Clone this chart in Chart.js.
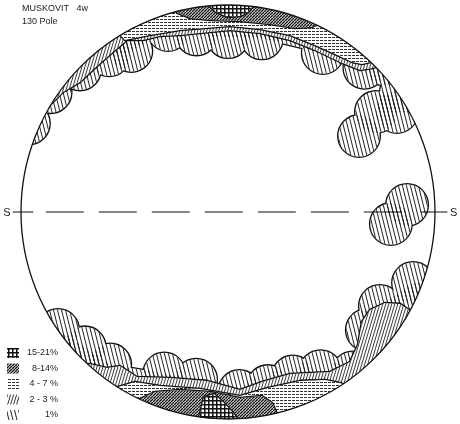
<!DOCTYPE html>
<html>
<head>
  <meta charset="utf-8">
  <title>Muskovit 4w</title>
  <script src="https://cdn.jsdelivr.net/npm/chart.js"></script>
  <style>
    html, body { margin: 0; padding: 0; background: #fff; }
    canvas { display: block; }
  </style>
</head>
<body>
  <canvas id="netChart" width="460" height="424"></canvas>

  <script>
    // text
    const titleLines = ['MUSKOVIT   4w', '130 Pole'];
    const levelLabels = ['15-21%', '8-14%', '4 - 7 %', '2 - 3 %', '1%'];
    const poleLabels = ['S', 'S'];

    // counting circle radius (unit net = 1)
    const countRadius = 0.1;

    // 1% contour: counting circles (centres in net coords)
    const topCircles = [
      [-0.962, 0.428], [-0.857, 0.579], [-0.715, 0.689], [-0.574, 0.757], [-0.467, 0.778],
      [-0.290, 0.879], [-0.152, 0.858], [0.000, 0.845], [0.164, 0.839], [0.458, 0.768],
      [0.659, 0.697], [0.760, 0.712], [0.715, 0.483], [0.816, 0.483]
    ];
    const rightCircles = [[0.633, 0.367]];
    const midCircles = [[0.865, 0.034], [0.787, -0.058]];
    const bottomCircles = [
      [-0.821, -0.570], [-0.692, -0.654], [-0.569, -0.737], [-0.308, -0.780], [-0.154, -0.810],
      [0.055, -0.865], [0.193, -0.841], [0.313, -0.795], [0.447, -0.769], [0.603, -0.775],
      [0.671, -0.570], [0.734, -0.454], [0.894, -0.343]
    ];

    // rim side areas of each level (closed outside the net, clipped to it)
    const topArea1 = [[-1.3, 0.25]].concat(topCircles, [[1.3, 0.45], [1.3, 1.3], [-1.3, 1.3]]);
    const bottomArea1 = [[-1.3, -0.45]].concat(bottomCircles, [[1.3, -0.3], [1.3, -1.3], [-1.3, -1.3]]);

    const topArea2 = [
      [-1.3, 0.35], [-0.952, 0.348], [-0.884, 0.493], [-0.797, 0.580], [-0.715, 0.628],
      [-0.633, 0.705], [-0.556, 0.773], [-0.488, 0.831], [-0.411, 0.831], [-0.329, 0.850],
      [-0.232, 0.855], [-0.135, 0.865], [0.010, 0.879], [0.155, 0.865], [0.300, 0.831],
      [0.420, 0.783], [0.541, 0.725], [0.638, 0.686], [0.700, 0.696], [1.2, 0.9],
      [1.3, 1.3], [-1.3, 1.3]
    ];
    const bottomArea2 = [
      [-0.75, -0.75], [-0.671, -0.734], [-0.584, -0.754], [-0.522, -0.744], [-0.440, -0.797],
      [-0.280, -0.802], [-0.101, -0.816], [0.058, -0.860], [0.164, -0.821], [0.300, -0.783],
      [0.493, -0.773], [0.589, -0.725], [0.628, -0.643], [0.647, -0.531], [0.686, -0.473],
      [0.758, -0.440], [0.831, -0.444], [0.889, -0.483], [1.0, -0.5], [1.3, -1.3], [-0.75, -1.3]
    ];

    const topArea3 = [
      [-0.56, 0.9], [-0.498, 0.831], [-0.377, 0.855], [-0.232, 0.879], [0.010, 0.899],
      [0.155, 0.884], [0.300, 0.855], [0.420, 0.807], [0.517, 0.763], [0.599, 0.725],
      [0.647, 0.715], [0.8, 0.75], [0.8, 1.3], [-0.56, 1.3]
    ];
    const bottomArea3 = [
      [-0.6, -0.85], [-0.531, -0.845], [-0.449, -0.821], [-0.329, -0.841], [-0.135, -0.855],
      [0.058, -0.889], [0.193, -0.850], [0.348, -0.816], [0.469, -0.812], [0.541, -0.826],
      [0.6, -0.85], [0.6, -1.3], [-0.6, -1.3]
    ];

    const topArea4 = [
      [-0.28, 1.0], [-0.242, 0.961], [-0.184, 0.937], [-0.087, 0.928], [0.058, 0.923],
      [0.203, 0.908], [0.324, 0.889], [0.406, 0.894], [0.435, 0.908], [0.5, 1.0],
      [0.5, 1.3], [-0.28, 1.3]
    ];
    const bottomArea4 = [
      [-0.48, -0.92], [-0.425, -0.903], [-0.353, -0.870], [-0.232, -0.860], [-0.087, -0.870],
      [0.058, -0.899], [0.164, -0.889], [0.213, -0.923], [0.237, -0.976], [0.26, -1.05],
      [0.26, -1.3], [-0.48, -1.3]
    ];

    const topArea5 = [
      [-0.1, 1.05], [-0.087, 0.995], [-0.058, 0.966], [0.000, 0.942], [0.058, 0.947],
      [0.097, 0.966], [0.126, 1.0], [0.15, 1.2], [-0.1, 1.2]
    ];
    const bottomArea5 = [
      [-0.16, -1.05], [-0.140, -0.995], [-0.116, -0.894], [-0.068, -0.879], [-0.019, -0.923],
      [0.029, -0.976], [0.048, -1.005], [0.06, -1.2], [-0.16, -1.2]
    ];

    // levels from 1% up
    const levels = [
      { circles: topCircles.concat(rightCircles, midCircles, bottomCircles), areas: [topArea1, bottomArea1] },
      { circles: [], areas: [topArea2, bottomArea2] },
      { circles: [], areas: [topArea3, bottomArea3] },
      { circles: [], areas: [topArea4, bottomArea4] },
      { circles: [], areas: [topArea5, bottomArea5] }
    ];

    function tile(w, h, draw) {
      const c = document.createElement('canvas');
      c.width = w; c.height = h;
      const g = c.getContext('2d');
      draw(g, w, h);
      return c;
    }

    function slantTile(w, h, back, lw, color) {
      return tile(w, h, (g) => {
        g.strokeStyle = color;
        g.lineWidth = lw;
        for (let k = -2; k <= 2; k++) {
          g.beginPath();
          if (back) { g.moveTo(k * w, 0); g.lineTo(k * w + w, h); }
          else { g.moveTo(k * w + w, 0); g.lineTo(k * w, h); }
          g.stroke();
        }
      });
    }

    let patterns = null;
    function makePatterns(ctx) {
      const t1 = slantTile(4, 16, true, 1.0, '#222');
      const t2 = slantTile(3, 10, false, 0.9, '#222');
      const t3 = tile(4, 3, (g) => { g.fillStyle = '#333'; g.fillRect(0, 1, 3, 1); });
      const t4 = slantTile(3, 3, false, 1.4, '#111');
      const t5 = tile(4, 4, (g) => { g.fillStyle = '#111'; g.fillRect(0, 0, 4, 1.5); g.fillRect(0, 0, 1.5, 4); });
      return [t1, t2, t3, t4, t5].map(t => ctx.createPattern(t, 'repeat'));
    }

    const netPlugin = {
      id: 'net',
      afterDraw(chart) {
        const { ctx, scales: { x, y } } = chart;
        const px = u => x.getPixelForValue(u);
        const py = v => y.getPixelForValue(v);
        const cx = px(0), cy = py(0);
        const R = px(1) - cx;
        const rc = px(countRadius) - cx;
        if (!patterns) patterns = makePatterns(ctx);

        // every circle / area as its own path, so windings never cancel
        const shapes = (lvl) => {
          const list = [];
          lvl.circles.forEach(c => list.push(() => {
            ctx.beginPath();
            ctx.arc(px(c[0]), py(c[1]), rc, 0, Math.PI * 2);
          }));
          lvl.areas.forEach(a => list.push(() => {
            ctx.beginPath();
            a.forEach((p, i) => i ? ctx.lineTo(px(p[0]), py(p[1])) : ctx.moveTo(px(p[0]), py(p[1])));
            ctx.closePath();
          }));
          return list;
        };

        ctx.save();
        ctx.beginPath();
        ctx.arc(cx, cy, R, 0, Math.PI * 2);
        ctx.clip();
        ctx.lineJoin = 'round';
        levels.forEach((lvl, i) => {
          const list = shapes(lvl);
          ctx.strokeStyle = '#111';
          ctx.lineWidth = 2.6;
          list.forEach(s => { s(); ctx.stroke(); });
          ctx.fillStyle = '#fff';
          list.forEach(s => { s(); ctx.fill(); });
          ctx.fillStyle = patterns[i];
          list.forEach(s => { s(); ctx.fill(); });
        });
        ctx.restore();

        // primitive circle
        ctx.save();
        ctx.strokeStyle = '#111';
        ctx.lineWidth = 1.3;
        ctx.beginPath();
        ctx.arc(cx, cy, R, 0, Math.PI * 2);
        ctx.stroke();

        // S - S line
        ctx.lineWidth = 1.2;
        ctx.beginPath();
        ctx.moveTo(px(-1.04), cy); ctx.lineTo(px(-0.94), cy);
        ctx.moveTo(px(0.93), cy); ctx.lineTo(px(1.06), cy);
        ctx.stroke();
        ctx.setLineDash([38, 15]);
        ctx.beginPath();
        ctx.moveTo(px(-0.88), cy); ctx.lineTo(px(0.9), cy);
        ctx.stroke();
        ctx.setLineDash([]);

        ctx.fillStyle = '#222';
        ctx.font = '11px "Liberation Sans", Arial, sans-serif';
        ctx.textBaseline = 'middle';
        ctx.textAlign = 'center';
        ctx.fillText(poleLabels[0], px(-1.068), cy + 1);
        ctx.fillText(poleLabels[1], px(1.09), cy + 1);

        // title
        ctx.textAlign = 'left';
        ctx.font = '9px "Liberation Sans", Arial, sans-serif';
        ctx.fillText(titleLines[0], 22, 9);
        ctx.fillText(titleLines[1], 22, 22);

        // key
        levelLabels.forEach((lab, i) => {
          const ky = 353 + i * 15.5;
          ctx.fillStyle = patterns[4 - i];
          ctx.fillRect(7, ky - 5, 12, 10);
          ctx.fillStyle = '#222';
          ctx.textAlign = 'right';
          ctx.fillText(lab, 58, ky);
        });
        ctx.restore();
      }
    };

    const chart = new Chart(document.getElementById('netChart').getContext('2d'), {
      type: 'scatter',
      data: { datasets: [] },
      options: {
        responsive: false,
        animation: false,
        layout: { padding: 0 },
        plugins: { legend: { display: false }, tooltip: { enabled: false } },
        scales: {
          x: { type: 'linear', display: false, min: -1.1014, max: 1.1208 },
          y: { type: 'linear', display: false, min: -1.0242, max: 1.0242 }
        }
      },
      plugins: [netPlugin]
    });
  </script>
</body>
</html>
